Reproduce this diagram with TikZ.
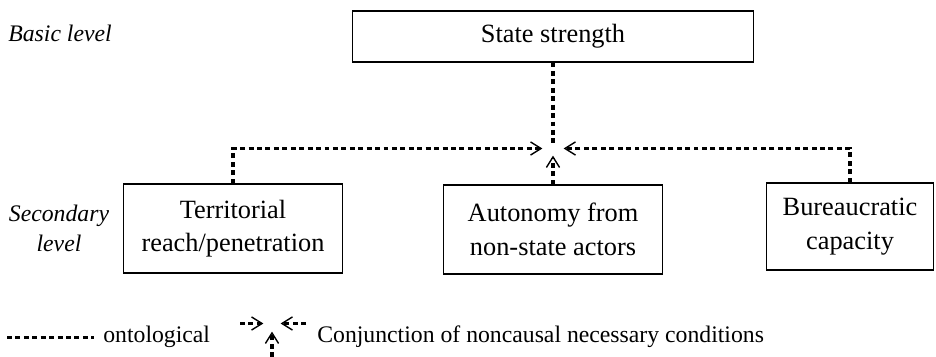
\documentclass[tikz,border=0pt]{standalone}
\usepackage{fontspec}
\setmainfont{Liberation Serif}
\usetikzlibrary{arrows.meta, positioning}

\tikzset{
  box/.style={draw, line width=0.6pt, inner sep=0pt, align=center, font=\fontsize{15}{19}\selectfont},
  txt/.style={inner sep=0pt, font=\fontsize{13.5}{17}\selectfont},
  lvl/.style={inner sep=0pt, align=center, font=\fontsize{13.5}{17}\selectfont\itshape},
  onto/.style={line width=1.9pt, dash pattern=on 2.8pt off 2pt},
  conj/.style={onto, -{Straight Barb[length=6pt, width=7.5pt, line width=0.8pt, sep=1.5pt]}}
}

\begin{document}
\begin{tikzpicture}[x=0.02cm, y=-0.02cm]
        \useasboundingbox (0,0) rectangle (936,357);

        % levels
        \node[lvl, anchor=base west] (basic) at (8,42) {Basic level};
        \node[lvl] (second) at (59,228) {Secondary\\level};

        % concepts
        \node[box, minimum width=8.04cm, minimum height=1.02cm] (strength) at (553,36.5) {State strength};
        \node[box, minimum width=4.38cm, minimum height=1.78cm] (terr) at (233,228.5) {Territorial\\reach/penetration};
        \node[box, minimum width=4.38cm, minimum height=1.78cm] (auton) at (553,229.5) {Autonomy from\\non-state actors};
        \node[box, minimum width=3.34cm, minimum height=1.74cm] (bureau) at (850,226.5) {Bureaucratic\\capacity};

        \coordinate (jtop) at (553,143);
        \coordinate (jleft) at (545,148.5);
        \coordinate (jright) at (561,148.5);
        \coordinate (jbot) at (553,153);

        \draw[onto] (strength.south) -- (jtop);
        \draw[conj] (terr.north) |- (jleft);
        \draw[conj] (bureau.north) |- (jright);
        \draw[conj] (auton.north) -- (jbot);

        % legend
        \coordinate (la) at (7,337.5);
        \coordinate (lb) at (94,337.5);
        \draw[onto] (la) -- (lb);
        \node[txt, anchor=base west] (ontolbl) at (103,343) {ontological};

        \coordinate (lleft) at (240,323.5);
        \coordinate (lleftend) at (266,323.5);
        \coordinate (lright) at (306,323.5);
        \coordinate (lrightend) at (278,323.5);
        \coordinate (lbot) at (272,357);
        \coordinate (lbotend) at (272,329);
        \draw[conj] (lleft) -- (lleftend);
        \draw[conj] (lright) -- (lrightend);
        \draw[conj] (lbot) -- (lbotend);
        \node[txt, anchor=base west] (conjlbl) at (317,343) {Conjunction of noncausal necessary conditions};

      \end{tikzpicture}
\end{document}
